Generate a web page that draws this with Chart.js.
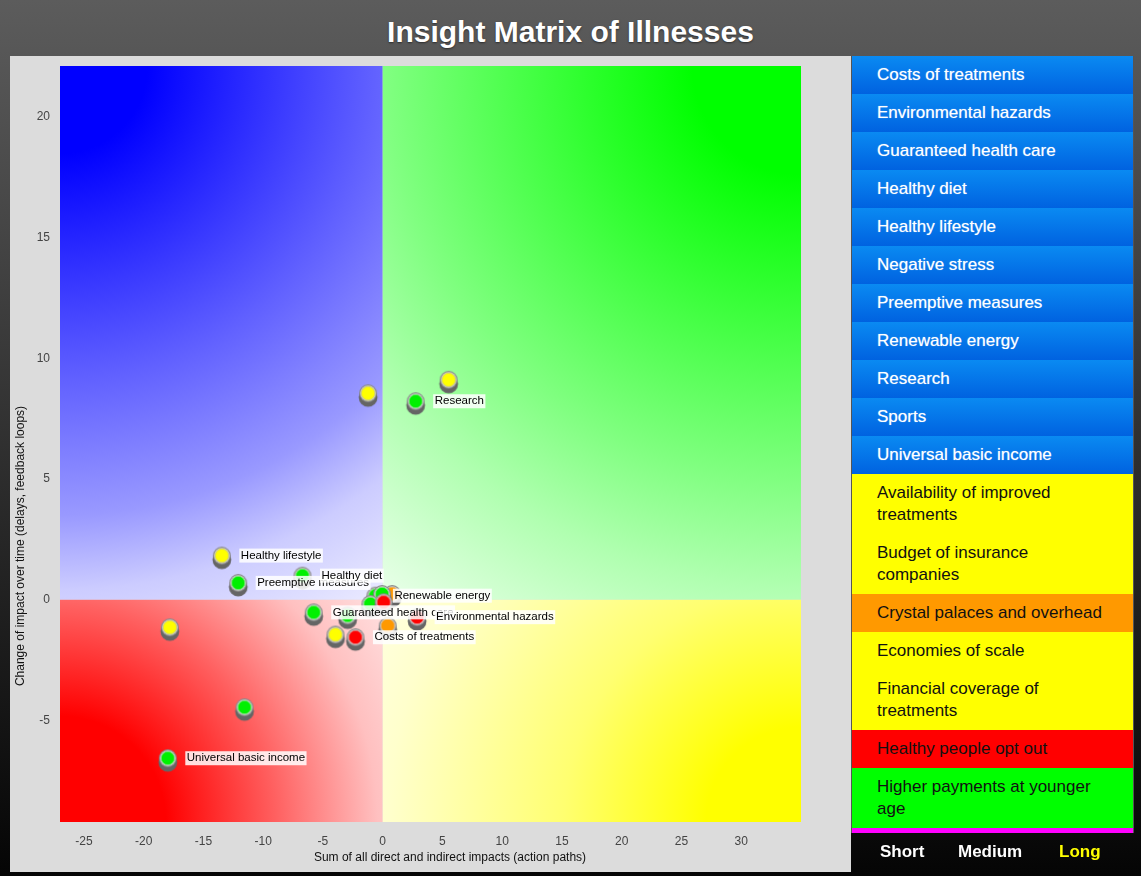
<!DOCTYPE html>
<html>
<head>
<meta charset="utf-8">
<title>Insight Matrix of Illnesses</title>
<script src="https://cdn.jsdelivr.net/npm/chart.js@4.4.1/dist/chart.umd.min.js"></script>
<style>
  html, body { margin: 0; padding: 0; }
  body {
    width: 1141px; height: 876px; overflow: hidden; position: relative;
    background: linear-gradient(#5c5c5c, #050505);
    font-family: "Liberation Sans", Helvetica, Arial, sans-serif;
  }
  h1 {
    position: absolute; left: 0; top: 14px; width: 1141px; margin: 0;
    text-align: center; color: #fff; font-size: 30px; line-height: 36px; font-weight: bold;
    text-shadow: 0 1px 2px rgba(0,0,0,0.5);
  }
  #chartBox {
    position: absolute; left: 10px; top: 56px; width: 841px; height: 816px;
    background: #dcdcdc;
  }
  #panel {
    position: absolute; left: 851px; top: 56px; width: 281px;
    border-left: 1px solid #555; border-right: 1px solid #555;
    background: #050505;
  }
  #panel div.item {
    padding: 8px 6px 8px 25px; font-size: 17px; line-height: 22px;
    white-space: nowrap; color: #111;
  }
  #panel div.blue {
    color: #fff; background: linear-gradient(#0a8af2, #0062e0);
    text-shadow: 0 0 1px rgba(255,255,255,0.6);
  }
  #panel div.bar { height: 5px; background: #ff00ff; }
  #terms { position: absolute; top: 842px; left: 0; width: 1141px; height: 24px; }
  #terms span {
    position: absolute; top: 0; font-size: 17px; font-weight: bold; color: #fff;
  }
</style>
</head>
<body>
<h1>Insight Matrix of Illnesses</h1>
<div id="chartBox"><canvas id="matrix"></canvas></div>
<div id="panel"></div>
<div id="terms"></div>

<script>
// axes
const xTicks = [-25, -20, -15, -10, -5, 0, 5, 10, 15, 20, 25, 30];
const yTicks = [-5, 0, 5, 10, 15, 20];
const xMin = -27, xMax = 35;
const yMin = -9.2, yMax = 22.1;

// points (drawing order)
const pointNames = ['', '', 'Research', 'Healthy lifestyle', 'Preemptive measures', 'Healthy diet',
  'Guaranteed health care', '', '', 'Renewable energy', '', '', '', 'Environmental hazards', '',
  'Costs of treatments', '', '', '', 'Universal basic income'];
const pointX = [-1.22, 5.52, 2.76, -13.46, -12.09, -6.71, -5.77, -2.93, 0.79, -0.61, -0.05, -1.03, 0.08,
  2.88, 0.42, -2.28, -3.95, -17.81, -11.56, -17.98];
const pointY = [8.55, 9.11, 8.22, 1.83, 0.70, 1.00, -0.52, -0.65, 0.24, 0.17, 0.24, -0.17, -0.10,
  -0.72, -1.07, -1.55, -1.44, -1.14, -4.45, -6.56];
const pointColors = ['yellow', 'yellow', 'green', 'yellow', 'green', 'green', 'green', 'green', 'orange',
  'green', 'green', 'green', 'red', 'red', 'orange', 'red', 'yellow', 'yellow', 'green', 'green'];

// side list
const factorNames = ['Costs of treatments', 'Environmental hazards', 'Guaranteed health care', 'Healthy diet',
  'Healthy lifestyle', 'Negative stress', 'Preemptive measures', 'Renewable energy', 'Research', 'Sports',
  'Universal basic income'];
const otherNames = ['Availability of improved<br>treatments', 'Budget of insurance<br>companies',
  'Crystal palaces and overhead', 'Economies of scale', 'Financial coverage of<br>treatments',
  'Healthy people opt out', 'Higher payments at younger<br>age'];
const otherColors = ['#ffff00', '#ffff00', '#ff9900', '#ffff00', '#ffff00', '#ff0000', '#00ff00'];
const terms = ['Short', 'Medium', 'Long'];
const termX = [880, 958, 1059];
const activeTerm = 'Long';

const panel = document.getElementById('panel');
let html = factorNames.map(n => `<div class="item blue">${n}</div>`).join('');
html += otherNames.map((n, i) => `<div class="item" style="background:${otherColors[i]}">${n}</div>`).join('');
html += '<div class="bar"></div>';
panel.innerHTML = html;

document.getElementById('terms').innerHTML = terms.map((t, i) =>
  `<span style="left:${termX[i]}px;${t === activeTerm ? 'color:#ffff00' : ''}">${t}</span>`).join('');

// dot images
function makeDot(fill, rim) {
  const c = document.createElement('canvas');
  c.width = 22; c.height = 30;
  const g = c.getContext('2d');
  g.fillStyle = '#656565';
  g.beginPath(); g.arc(11, 19, 9.4, 0, 2 * Math.PI); g.fill();
  g.fillStyle = '#8a8a8a';
  g.beginPath(); g.arc(11, 15, 8.9, 0, 2 * Math.PI); g.fill();
  g.fillStyle = '#d0d0d0';
  g.beginPath(); g.arc(11, 15, 7.8, 0, 2 * Math.PI); g.fill();
  g.fillStyle = fill;
  g.beginPath(); g.arc(11, 15, 6.7, 0, 2 * Math.PI); g.fill();
  g.lineWidth = 1; g.strokeStyle = rim; g.stroke();
  return c;
}
const dots = {
  green: makeDot('#00f000', '#7ae87a'),
  yellow: makeDot('#ffff00', '#d8d860'),
  red: makeDot('#ff0000', '#e87070'),
  orange: makeDot('#ff9900', '#e8b060')
};

// radial fade from each outer corner towards the origin
const quadrants = [
  { sx: -1, sy: 1, stops: [[0, '#0000ff'], [0.14, '#0000ff'], [0.5, '#6060ff'], [0.72, '#9999ff'], [0.84, '#ccccff'], [1, '#ebebff']] },
  { sx: 1, sy: 1, stops: [[0, '#00ff00'], [0.16, '#00ff00'], [0.61, '#80ff80'], [0.77, '#b0ffb0'], [1, '#ebffeb']] },
  { sx: -1, sy: -1, stops: [[0, '#ff0000'], [0.27, '#ff0000'], [0.55, '#ff6060'], [0.81, '#ffc0c0'], [1, '#ffe0e0']] },
  { sx: 1, sy: -1, stops: [[0, '#ffff00'], [0.2, '#ffff00'], [0.5, '#ffff70'], [0.87, '#ffffcc'], [1, '#ffffe0']] }
];

const matrixPlugin = {
  id: 'matrix',
  beforeDatasetsDraw(chart) {
    const { ctx, chartArea: a, scales } = chart;
    const ox = scales.x.getPixelForValue(0), oy = scales.y.getPixelForValue(0);
    quadrants.forEach(q => {
      const cx = q.sx < 0 ? a.left : a.right;
      const cy = q.sy > 0 ? a.top : a.bottom;
      const r = Math.hypot(ox - cx, oy - cy);
      const grad = ctx.createRadialGradient(cx, cy, 0, cx, cy, r);
      q.stops.forEach(s => grad.addColorStop(s[0], s[1]));
      ctx.fillStyle = grad;
      ctx.fillRect(Math.min(cx, ox), Math.min(cy, oy), Math.abs(ox - cx), Math.abs(oy - cy));
    });
  },
  afterDatasetsDraw(chart) {
    const { ctx } = chart;
    const meta = chart.getDatasetMeta(0);
    const order = pointNames.map((n, i) => i).filter(i => pointNames[i])
      .sort((a, b) => pointNames[b].localeCompare(pointNames[a]));
    ctx.save();
    ctx.font = '11.5px "Liberation Sans", Helvetica, Arial, sans-serif';
    ctx.textBaseline = 'middle';
    order.forEach(i => {
      const p = meta.data[i];
      const w = ctx.measureText(pointNames[i]).width;
      ctx.fillStyle = 'rgba(255,255,255,0.85)';
      ctx.fillRect(p.x + 17.5, p.y - 7, w + 3, 14);
      ctx.fillStyle = '#000';
      ctx.fillText(pointNames[i], p.x + 19, p.y);
    });
    ctx.restore();
  },
  afterDraw(chart) {
    const { ctx } = chart;
    ctx.save();
    ctx.fillStyle = '#111';
    ctx.font = '12px "Liberation Sans", Helvetica, Arial, sans-serif';
    ctx.textAlign = 'center';
    ctx.textBaseline = 'middle';
    ctx.fillText('Sum of all direct and indirect impacts (action paths)', 440, 802);
    ctx.translate(11, 490);
    ctx.rotate(-Math.PI / 2);
    ctx.fillText('Change of impact over time (delays, feedback loops)', 0, 0);
    ctx.restore();
  }
};

Chart.defaults.font.family = '"Liberation Sans", Helvetica, Arial, sans-serif';

new Chart(document.getElementById('matrix'), {
  type: 'scatter',
  data: {
    datasets: [{
      data: pointX.map((x, i) => ({ x, y: pointY[i] })),
      pointStyle: ctx => dots[pointColors[ctx.dataIndex]],
      pointRadius: 9
    }]
  },
  options: {
    responsive: true,
    maintainAspectRatio: false,
    animation: false,
    events: [],
    layout: { padding: { top: 9, right: 50, left: 0, bottom: 0 } },
    plugins: { legend: { display: false }, tooltip: { enabled: false } },
    scales: {
      x: {
        type: 'linear', min: xMin, max: xMax,
        grid: { display: false, drawTicks: false },
        border: { display: false },
        afterBuildTicks: s => { s.ticks = xTicks.map(v => ({ value: v })); },
        afterFit: s => { s.height = 50; },
        ticks: { color: '#444', font: { size: 12 }, padding: 12, maxRotation: 0 }
      },
      y: {
        type: 'linear', min: yMin, max: yMax,
        grid: { display: false, drawTicks: false },
        border: { display: false },
        afterBuildTicks: s => { s.ticks = yTicks.map(v => ({ value: v })); },
        afterFit: s => { s.width = 50; s.paddingTop = 0; s.paddingBottom = 0; },
        ticks: { color: '#444', font: { size: 12 }, padding: 10 }
      }
    }
  },
  plugins: [matrixPlugin]
});
</script>
</body>
</html>
